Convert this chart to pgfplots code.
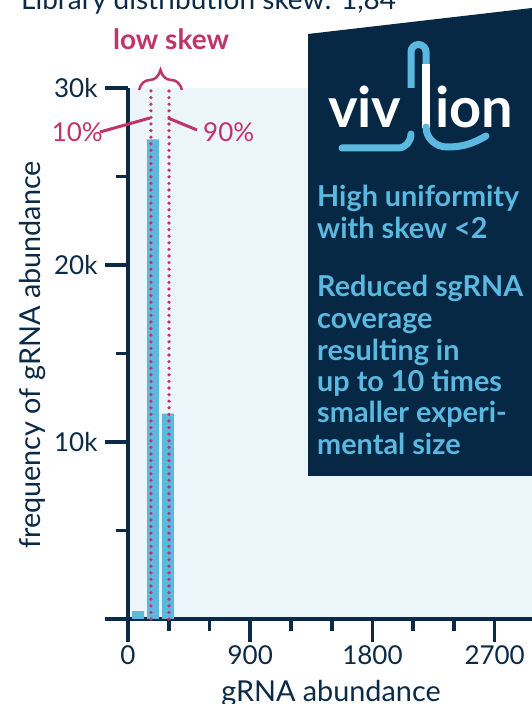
\documentclass[border=0pt]{standalone}
\usepackage{fontspec}
\setmainfont{Lato}
\usepackage{pgfplots}
\pgfplotsset{compat=1.18}
\usetikzlibrary{decorations.pathreplacing}
\definecolor{navy}{HTML}{0B2A47}
\definecolor{panel}{HTML}{062845}
\definecolor{lightbg}{HTML}{ECF6FA}
\definecolor{barblue}{HTML}{5DB7DE}
\definecolor{crim}{HTML}{C23368}
\definecolor{logoblue}{HTML}{5BB8DF}
\begin{document}
\begin{tikzpicture}
\useasboundingbox (0pt,0pt) rectangle (532pt,704pt);
\begin{axis}[
  at={(128pt,85pt)}, anchor=south west,
  scale only axis, width=404pt, height=531pt,
  xmin=0, xmax=2975, ymin=0, ymax=30000,
  scaled x ticks=false, scaled y ticks=false,
  axis lines=left,
  axis line style={-, line width=3.6pt, navy},
  axis background/.style={fill=lightbg},
  xtick={0,900,1800,2700}, xticklabels={0,900,1800,2700},
  ytick={0,10000,20000,30000}, yticklabels={,10k,20k,30k},
  minor xtick={300,600,1200,1500,2100,2400},
  minor ytick={5000,15000,25000},
  tick align=outside,
  major tick length=23pt, minor tick length=12pt,
  tick style={navy, line width=3.6pt},
  ticklabel style={font=\fontsize{26}{30}\selectfont, text=navy},
  yticklabel style={xshift=-4pt},
  clip=false,
]
\addplot[ybar, bar width=88, fill=barblue, draw=none] coordinates {(74,450) (184,27100) (294,11600)};
\addplot[crim, line width=3.6pt, line cap=round, dash pattern=on 0pt off 6.6pt] coordinates {(169,0) (169,29850)};
\addplot[crim, line width=3.6pt, line cap=round, dash pattern=on 0pt off 6.6pt] coordinates {(302,0) (302,29850)};
\end{axis}
\begin{scope}[x=1pt,y=1pt]
% title (cut off at the top)
\node[anchor=base west, font=\fontsize{28}{32}\selectfont, text=navy, inner sep=0pt] at (21,694) {Library distribution skew: 1,84};
% axis labels
\node[rotate=90, font=\fontsize{28.8}{32}\selectfont, text=navy] at (33,349) {frequency of gRNA abundance};
\node[anchor=base, font=\fontsize{28.8}{32}\selectfont, text=navy, inner sep=0pt] at (331,2) {gRNA abundance};
% low skew annotation
\node[anchor=base, font=\bfseries\fontsize{28}{32}\selectfont, text=crim, inner sep=0pt] at (171,654) {low skew};
\draw[crim, line width=2.5pt, decorate, decoration={brace, amplitude=20pt}] (139,614) -- (182,614);
\node[anchor=base east, font=\fontsize{26}{30}\selectfont, text=crim, inner sep=0pt] at (103,562) {10\%};
\node[anchor=base west, font=\fontsize{26}{30}\selectfont, text=crim, inner sep=0pt] at (203,562) {90\%};
\draw[crim, line width=3pt] (100,572) -- (150,586);
\draw[crim, line width=3pt] (168,586) -- (197,574);
% panel
\fill[panel] (308,670) -- (532,696) -- (532,228) -- (308,228) -- cycle;
\begin{scope}[font=\bfseries\fontsize{28.8}{32}\selectfont, text=logoblue]
\node[anchor=base west, inner sep=0pt] at (317,497) {High uniformity};
\node[anchor=base west, inner sep=0pt] at (317,465) {with skew <2};
\node[anchor=base west, inner sep=0pt] at (317,407) {Reduced sgRNA};
\node[anchor=base west, inner sep=0pt] at (317,375) {coverage};
\node[anchor=base west, inner sep=0pt] at (317,343) {resulting in};
\node[anchor=base west, inner sep=0pt] at (317,312) {up to 10 times};
\node[anchor=base west, inner sep=0pt] at (317,281) {smaller experi-};
\node[anchor=base west, inner sep=0pt] at (317,249) {mental size};
\end{scope}
% logo
\node[anchor=base west, inner sep=0pt, text=white, font=\bfseries\fontsize{56}{60}\selectfont] at (328,576) {viv};
\node[anchor=base west, inner sep=0pt, text=white, font=\bfseries\fontsize{56}{60}\selectfont] at (435,576) {ion};
\draw[white, line width=8pt] (426,640) -- (426,576);
\draw[logoblue, line width=7pt] (411,616) -- (411,652) arc[start angle=180, end angle=0, radius=7.5] -- (426,640);
\draw[logoblue, line width=7pt, line cap=round] (342,556) -- (398,556) to[out=0,in=-90] (411,570);
\draw[logoblue, line width=7pt, line cap=round] (426,577) to[out=-90,in=180] (447,557) to[out=0,in=-150] (486,568);
\end{scope}
\end{tikzpicture}
\end{document}
